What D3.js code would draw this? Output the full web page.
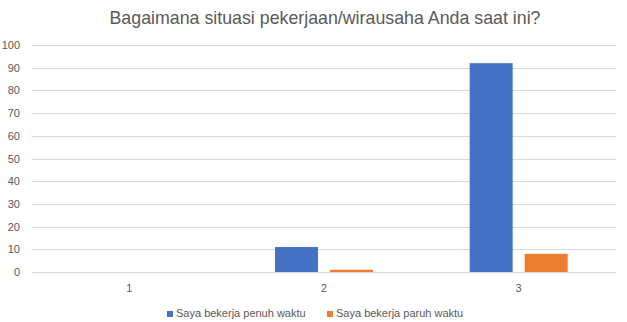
<!DOCTYPE html>
<html>
<head>
<meta charset="utf-8">
<script src="https://cdn.jsdelivr.net/npm/d3@7"></script>
<style>
  body { margin: 0; background: #fff; }
  text { font-family: "Liberation Sans", Arial, sans-serif; fill: #595959; }
</style>
</head>
<body>
<script>
// Chart data.
var categories = ["1", "2", "3"];
var seriesNames = ["Saya bekerja penuh waktu", "Saya bekerja paruh waktu"];
var fullTime = [0, 11, 92];
var partTime = [0, 1, 8];
var yTicks = [0, 10, 20, 30, 40, 50, 60, 70, 80, 90, 100];

var colors = ["#4472C4", "#ED7D31"];
var series = [fullTime, partTime];

var plotWidth = 627;
var plotHeight = 322;
var margin = ({ top: 45, right: 11, bottom: 50, left: 32 });
var width = plotWidth - margin.left - margin.right;
var height = plotHeight - margin.top - margin.bottom;

var svg = d3.select("body").append("svg")
            .attr("width", plotWidth)
            .attr("height", plotHeight);

// Title.
svg.append("text")
   .attr("x", 325)
   .attr("y", 24)
   .attr("text-anchor", "middle")
   .style("font-size", "17.8px")
   .text("Bagaimana situasi pekerjaan/wirausaha Anda saat ini?");

var g = svg.append("g")
           .attr("transform", "translate(" + margin.left + ", " + margin.top + ")");

var xScale = d3.scaleBand()
               .domain(categories)
               .range([0, width]);

var yScale = d3.scaleLinear()
               .domain([0, 100])
               .range([height, 0]);

// Gridlines.
g.selectAll(".grid")
 .data(yTicks)
 .enter().append("line")
 .attr("class", "grid")
 .attr("x1", 0)
 .attr("x2", width)
 .attr("y1", d => Math.round(yScale(d)) + 0.5)
 .attr("y2", d => Math.round(yScale(d)) + 0.5)
 .attr("stroke", "#d9d9d9")
 .attr("stroke-width", 1);

// Y axis labels.
var yAxis = g.append("g")
             .call(d3.axisLeft(yScale).tickValues(yTicks).tickSize(0).tickPadding(12));
yAxis.select(".domain").remove();
yAxis.selectAll("text").style("font-size", "11px").attr("fill", "#595959");

// X axis labels.
var xAxis = g.append("g")
             .attr("transform", "translate(0, " + height + ")")
             .call(d3.axisBottom(xScale).tickSize(0).tickPadding(12));
xAxis.select(".domain").remove();
xAxis.selectAll("text").style("font-size", "11px").attr("fill", "#595959");

// Bars.
var barWidth = 43;
var barGap = 12;
series.forEach(function (values, i) {
    g.selectAll(".bar" + i)
     .data(values)
     .enter().append("rect")
     .attr("class", "bar" + i)
     .attr("x", function (d, j) {
         var c = xScale(categories[j]) + xScale.bandwidth() / 2;
         return i === 0 ? c - barGap / 2 - barWidth : c + barGap / 2;
     })
     .attr("y", d => yScale(d))
     .attr("width", barWidth)
     .attr("height", d => height - yScale(d))
     .attr("fill", colors[i]);
});

// Legend.
var legendX = [167, 327];
var legend = svg.selectAll(".legend")
                .data(seriesNames)
                .enter().append("g")
                .attr("class", "legend")
                .attr("transform", (d, i) => "translate(" + legendX[i] + ", 311)");
legend.append("rect")
      .attr("width", 6)
      .attr("height", 6)
      .attr("fill", (d, i) => colors[i]);
legend.append("text")
      .attr("x", 9)
      .attr("y", 6)
      .style("font-size", "11px")
      .text(d => d);
</script>
</body>
</html>
